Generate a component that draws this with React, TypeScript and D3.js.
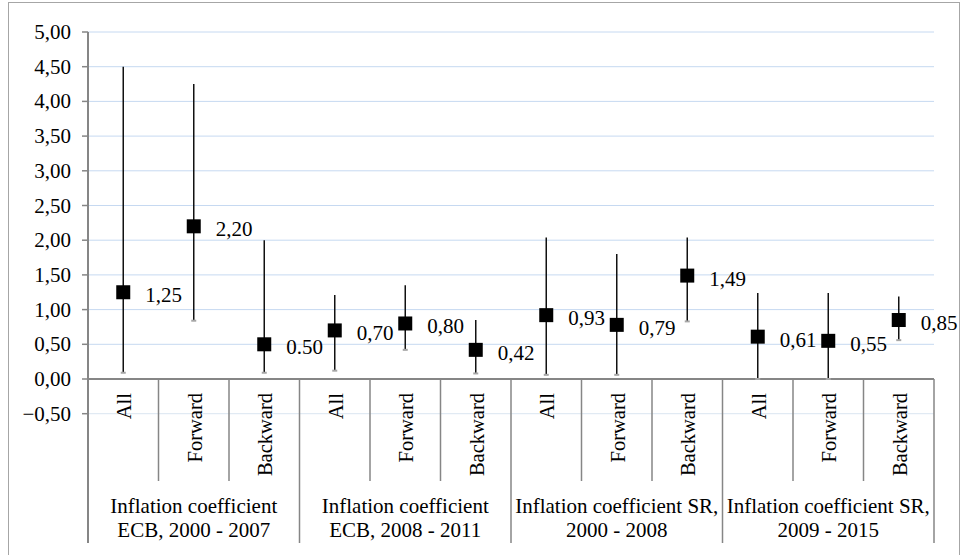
import React from "react";
import * as d3 from "d3";

const groups = [
  ["Inflation coefficient", "ECB, 2000 - 2007"],
  ["Inflation coefficient", "ECB, 2008 - 2011"],
  ["Inflation coefficient SR,", "2000 - 2008"],
  ["Inflation coefficient SR,", "2009 - 2015"],
];
const subCats = ["All", "Forward", "Backward"];
const values = [1.25, 2.2, 0.5, 0.7, 0.8, 0.42, 0.92, 0.78, 1.49, 0.61, 0.55, 0.85];
const lows = [0.09, 0.84, 0.09, 0.12, 0.42, 0.08, 0.06, 0.06, 0.83, 0.0, 0.0, 0.56];
const highs = [4.5, 4.25, 2.0, 1.21, 1.35, 0.85, 2.04, 1.8, 2.04, 1.24, 1.24, 1.19];
const labels = ["1,25", "2,20", "0.50", "0,70", "0,80", "0,42", "0,93", "0,79", "1,49", "0,61", "0,55", "0,85"];
const yTicks = [-0.5, 0, 0.5, 1, 1.5, 2, 2.5, 3, 3.5, 4, 4.5, 5];

export default function App() {
  const left = 88, right = 934;
  const y = d3.scaleLinear().domain([0, 5]).range([379, 32]);
  const n = groups.length * subCats.length;
  const cats = d3.range(n).map(String);
  const x = d3.scaleBand().domain(cats).range([left, right]);
  const bw = x.bandwidth();
  const font = "Liberation Serif";
  const fmt = (v: number) => d3.format(".2f")(v).replace(".", ",");
  const axisColor = "#868686";
  const ms = 14;
  const tx = { fontFamily: `"${font}"` };
  return (
    <svg width={961} height={555} style={{ position: "absolute", left: 0, top: 0 }}>
      <style>{`text { font-family: "Liberation Serif", "Times New Roman", serif; }`}</style>
      <rect x={8.5} y={2.5} width={951} height={570} fill="#fff" stroke="#a6a6a6" strokeWidth={1} />
      {yTicks.map((t) => (
        <g key={t}>
          {t !== 0 && (
            <line x1={left} x2={right} y1={y(t)} y2={y(t)} stroke={t < 0 ? "#dbe5f1" : "#c6d9f1"} strokeWidth={1} />
          )}
          <line x1={left - 6} x2={left} y1={y(t)} y2={y(t)} stroke={axisColor} strokeWidth={1.5} />
          <text x={71} y={y(t) + 7} textAnchor="end" fontSize={21} fill="#000" fontFamily={font} style={tx}>
            {fmt(t)}
          </text>
        </g>
      ))}
      <line x1={left} x2={right} y1={y(0)} y2={y(0)} stroke={axisColor} strokeWidth={2} />
      <line x1={left} x2={left} y1={y(5)} y2={543} stroke={axisColor} strokeWidth={2} />
      {d3.range(1, n + 1).map((k) => {
        const xx = left + k * bw;
        const isGroup = k % subCats.length === 0;
        return (
          <line key={k} x1={xx} x2={xx} y1={y(0)} y2={isGroup ? 543 : 481} stroke={axisColor} strokeWidth={1.5} />
        );
      })}
      {cats.map((c, i) => {
        const cx = (x(c) as number) + bw / 2;
        return (
          <text key={c} transform={`translate(${cx + 8},393) rotate(-90)`} textAnchor="end" fontSize={20.5} fill="#000" fontFamily={font} style={tx}>
            {subCats[i % subCats.length]}
          </text>
        );
      })}
      {groups.map((g, gi) => {
        const cx = left + (gi * subCats.length + subCats.length / 2) * bw;
        return (
          <text key={gi} x={cx} textAnchor="middle" fontSize={21} fill="#000" fontFamily={font} style={tx}>
            <tspan x={cx} y={513}>{g[0]}</tspan>
            <tspan x={cx} y={537}>{g[1]}</tspan>
          </text>
        );
      })}
      {cats.map((c, i) => {
        const cx = (x(c) as number) + bw / 2;
        return (
          <g key={c}>
            <line x1={cx} x2={cx} y1={y(highs[i])} y2={y(lows[i])} stroke="#111" strokeWidth={1.5} />
            <line x1={cx - 2.5} x2={cx + 2.5} y1={y(lows[i])} y2={y(lows[i])} stroke="#a6a6a6" strokeWidth={2} />
            <rect x={cx - ms / 2} y={y(values[i]) - ms / 2} width={ms} height={ms} fill="#000" />
            <text x={cx + 22} y={y(values[i]) + 10} fontSize={21} fill="#000" fontFamily={font} style={tx}>
              {labels[i]}
            </text>
          </g>
        );
      })}
    </svg>
  );
}
